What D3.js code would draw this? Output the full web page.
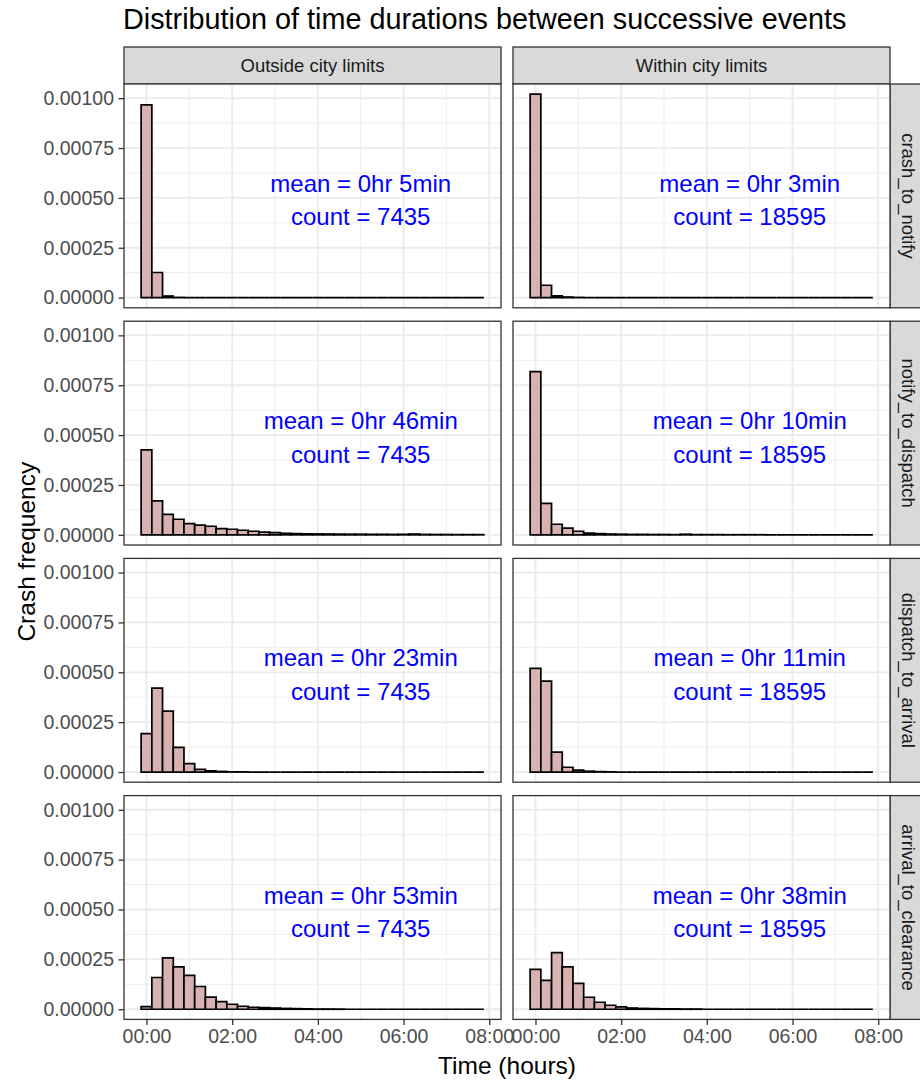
<!DOCTYPE html>
<html><head><meta charset="utf-8">
<script src="https://cdn.jsdelivr.net/npm/d3@7"></script>
<style>
body{margin:0;background:#fff}
svg{display:block}
text{font-family:"Liberation Sans",Arial,Helvetica,sans-serif}
</style>
</head><body>
<svg id="chart" width="920" height="1080"></svg>
<script>
// ---------- data ----------
const chartTitle = "Distribution of time durations between successive events";
const xTitle = "Time (hours)";
const yTitle = "Crash frequency";
const columns = ["Outside city limits", "Within city limits"];
const rows = ["crash_to_notify", "notify_to_dispatch", "dispatch_to_arrival", "arrival_to_clearance"];
const counts = [7435, 18595];
const meansOutside = ["0hr 5min", "0hr 46min", "0hr 23min", "0hr 53min"];
const meansWithin = ["0hr 3min", "0hr 10min", "0hr 11min", "0hr 38min"];
const binWidthMin = 15;
const binCenterMin = [0,15,30,45,60,75,90,105,120,135,150,165,180,195,210,225,240,255,270,285,300,315,330,345,360,375,390,405,420,435,450,465];
const xTickMin = [0,120,240,360,480];
const xTickLabels = ["00:00","02:00","04:00","06:00","08:00"];
const xMinorMin = [60,180,300,420];
const yTicks = [0, 0.00025, 0.0005, 0.00075, 0.001];
const yMinor = [0.000125, 0.000375, 0.000625, 0.000875];

const outside_crash_to_notify = [0.000966,0.000126,0.000008,0.000001,0,0,0,0,0,0,0,0,0,0,0,0,0,0,0,0,0,0,0,0,0,0,0,0,0,0,0,0];
const within_crash_to_notify  = [0.00102,0.000062,0.000009,0.000003,0.000001,0,0,0,0,0,0,0,0,0,0,0,0,0,0,0,0,0,0,0,0,0,0,0,0,0,0,0];
const outside_notify_to_dispatch = [0.000426,0.00017,0.000103,0.000078,0.000056,0.000049,0.000043,0.000031,0.000028,0.000023,0.000018,0.000014,0.000011,0.0000075,0.000006,0.000005,0.0000045,0.000004,0.0000035,0.000003,0.000003,0.0000025,0.0000025,0.000002,0.0000025,0.000004,0.000002,0.0000015,0.0000015,0.000001,0.000001,0.000001];
const within_notify_to_dispatch  = [0.000818,0.000158,0.000053,0.000034,0.000018,0.000009,0.000006,0.000004,0.000003,0.000002,0.000002,0.0000015,0.0000015,0.000001,0.000003,0.000001,0.000001,0.000001,0.0000005,0.0000005,0.0000005,0.0000005,0,0,0,0,0,0,0,0,0,0];
const outside_dispatch_to_arrival = [0.000193,0.000421,0.000305,0.000124,0.000042,0.000013,0.000006,0.000003,0.000001,0.000001,0,0,0,0,0,0,0,0,0,0,0,0,0,0,0,0,0,0,0,0,0,0];
const within_dispatch_to_arrival  = [0.00052,0.000456,0.0001,0.000024,0.00001,0.000004,0.000002,0.000001,0,0,0,0,0,0,0,0,0,0,0,0,0,0,0,0,0,0,0,0,0,0,0,0];
const outside_arrival_to_clearance = [0.000013,0.000159,0.000257,0.000212,0.00017,0.000114,0.000061,0.000038,0.000025,0.000015,0.00001,0.000008,0.000006,0.000004,0.000003,0.000002,0.000001,0.000001,0.0000005,0,0,0,0,0,0,0,0,0,0,0,0,0];
const within_arrival_to_clearance  = [0.0002,0.000145,0.000284,0.000212,0.00013,0.00006,0.000035,0.00002,0.000012,0.000006,0.000004,0.000003,0.000002,0.000002,0.000001,0.000001,0,0,0,0,0,0,0,0,0,0,0,0,0,0,0,0];

// ---------- table built from arrays ----------
const series = [
  [outside_crash_to_notify, within_crash_to_notify],
  [outside_notify_to_dispatch, within_notify_to_dispatch],
  [outside_dispatch_to_arrival, within_dispatch_to_arrival],
  [outside_arrival_to_clearance, within_arrival_to_clearance]
];
const means = [meansOutside, meansWithin];

// ---------- layout ----------
const colX = [124, 513];
const panelW = 377;
const stripTop = 47, stripH = 37;
const panelTop0 = 84, rowPitch = 237.2, panelH = 223.8;
const rightStripX = 890, rightStripW = 36;
const tickFont = 19.5;

const svg = d3.select("#chart");

const xMin = d3.min(binCenterMin) - binWidthMin/2;
const xMax = d3.max(binCenterMin) + binWidthMin/2;
const xPad = (xMax - xMin) * 0.05;
const x = d3.scaleLinear().domain([xMin - xPad, xMax + xPad]).range([0, panelW]);

const yMaxData = d3.max(series.flat(2));
const y = d3.scaleLinear().domain([-0.05 * yMaxData, 1.05 * yMaxData]).range([panelH, 0]);

// title
svg.append("text").attr("x", 123).attr("y", 29)
  .attr("font-size", 28.8).attr("fill", "#000").text(chartTitle);

// column strips
columns.forEach((c, ci) => {
  svg.append("rect").attr("x", colX[ci]).attr("y", stripTop).attr("width", panelW).attr("height", stripH)
    .attr("fill", "#d9d9d9").attr("stroke", "#333").attr("stroke-width", 1.3);
  svg.append("text").attr("x", colX[ci] + panelW/2).attr("y", stripTop + stripH/2)
    .attr("dy", "0.35em").attr("text-anchor", "middle").attr("font-size", 18.5).attr("fill", "#1a1a1a").text(c);
});

rows.forEach((r, ri) => {
  const py = panelTop0 + ri * rowPitch;
  // row strip
  svg.append("rect").attr("x", rightStripX).attr("y", py).attr("width", rightStripW).attr("height", panelH)
    .attr("fill", "#d9d9d9").attr("stroke", "#333").attr("stroke-width", 1.3);
  svg.append("text").attr("transform", `translate(${rightStripX + rightStripW/2},${py + panelH/2}) rotate(90)`)
    .attr("dy", "0.35em").attr("text-anchor", "middle").attr("font-size", 18.5).attr("fill", "#1a1a1a").text(r);

  columns.forEach((c, ci) => {
    const g = svg.append("g").attr("transform", `translate(${colX[ci]},${py})`);
    g.append("rect").attr("width", panelW).attr("height", panelH).attr("fill", "#fff");
    // minor grid
    g.selectAll(".vmin").data(xMinorMin).join("line")
      .attr("x1", d => x(d)).attr("x2", d => x(d)).attr("y1", 0).attr("y2", panelH)
      .attr("stroke", "#ebebeb").attr("stroke-width", 0.9);
    g.selectAll(".hmin").data(yMinor).join("line")
      .attr("y1", d => y(d)).attr("y2", d => y(d)).attr("x1", 0).attr("x2", panelW)
      .attr("stroke", "#ebebeb").attr("stroke-width", 0.9);
    // major grid
    g.selectAll(".vmaj").data(xTickMin).join("line")
      .attr("x1", d => x(d)).attr("x2", d => x(d)).attr("y1", 0).attr("y2", panelH)
      .attr("stroke", "#ebebeb").attr("stroke-width", 1.8);
    g.selectAll(".hmaj").data(yTicks).join("line")
      .attr("y1", d => y(d)).attr("y2", d => y(d)).attr("x1", 0).attr("x2", panelW)
      .attr("stroke", "#ebebeb").attr("stroke-width", 1.8);
    // bars (paths so that zero-height bins still draw their outline)
    const vals = series[ri][ci];
    g.selectAll(".bar").data(vals.map((v, i) => ({c: binCenterMin[i], v}))).join("path")
      .attr("d", d => {
        const x0 = x(d.c - binWidthMin/2), x1 = x(d.c + binWidthMin/2);
        const y0 = y(0), y1 = y(d.v);
        return `M${x0},${y0}V${y1}H${x1}V${y0}Z`;
      })
      .attr("fill", "#d8b1b1").attr("stroke", "#000").attr("stroke-width", 1.7)
      .attr("stroke-linejoin", "miter");
    // annotation
    const ax = x(300), ay = y(0.0005);
    const t = g.append("text").attr("x", ax).attr("y", ay + 2).attr("text-anchor", "middle")
      .attr("font-size", 24).attr("fill", "#0000ff");
    t.append("tspan").attr("x", ax).attr("dy", "-0.33em").text(`mean = ${means[ci][ri]}`);
    t.append("tspan").attr("x", ax).attr("dy", "1.39em").text(`count = ${counts[ci]}`);
    // border
    g.append("rect").attr("width", panelW).attr("height", panelH)
      .attr("fill", "none").attr("stroke", "#333").attr("stroke-width", 1.3);

    // y axis on left column
    if (ci === 0) {
      const ya = g.append("g").call(d3.axisLeft(y).tickValues(yTicks).tickFormat(d3.format(".5f")).tickSize(5.5).tickPadding(4.5));
      ya.select(".domain").remove();
      ya.selectAll(".tick line").attr("stroke", "#333").attr("stroke-width", 1.3);
      ya.selectAll(".tick text").attr("fill", "#4d4d4d").attr("font-size", tickFont)
        .attr("font-family", '"Liberation Sans",Arial,sans-serif');
    }
    // x axis on bottom row
    if (ri === rows.length - 1) {
      const xa = g.append("g").attr("transform", `translate(0,${panelH})`)
        .call(d3.axisBottom(x).tickValues(xTickMin).tickFormat((d, i) => xTickLabels[i]).tickSize(5.5).tickPadding(4));
      xa.select(".domain").remove();
      xa.selectAll(".tick line").attr("stroke", "#333").attr("stroke-width", 1.3);
      xa.selectAll(".tick text").attr("fill", "#4d4d4d").attr("font-size", tickFont)
        .attr("font-family", '"Liberation Sans",Arial,sans-serif');
    }
  });
});

// axis titles
const panelsBottom = panelTop0 + (rows.length - 1) * rowPitch + panelH;
svg.append("text").attr("x", (colX[0] + rightStripX) / 2).attr("y", 1074)
  .attr("text-anchor", "middle").attr("font-size", 24.5).attr("fill", "#000").text(xTitle);
svg.append("text").attr("transform", `translate(35,${(panelTop0 + panelsBottom)/2}) rotate(-90)`)
  .attr("text-anchor", "middle").attr("font-size", 24.5).attr("fill", "#000").text(yTitle);
</script>
</body></html>
